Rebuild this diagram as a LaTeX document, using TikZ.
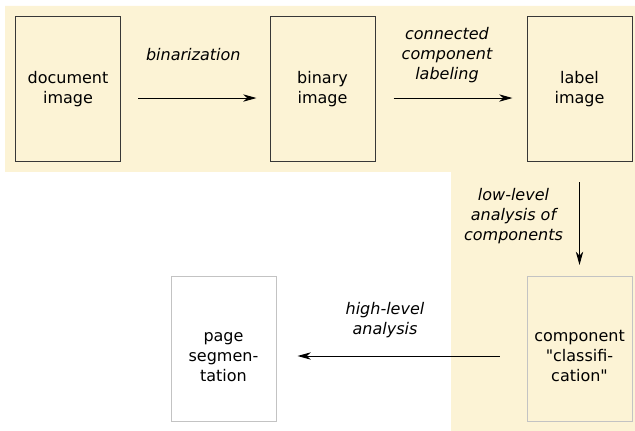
\documentclass[tikz,border=0pt]{standalone}
\usepackage{fontspec}
\setmainfont{DejaVu Sans}
\usepackage{tikz}
\usetikzlibrary{arrows.meta,calc,positioning}
\definecolor{creme}{RGB}{252,243,213}
\definecolor{bordfonce}{RGB}{55,55,55}
\definecolor{bordclair}{RGB}{195,195,195}

\begin{document}
\begin{tikzpicture}[
			x=0.75pt, y=-0.75pt,
			etape/.style={rectangle, draw=bordfonce, line width=0.75pt, minimum width=78.75pt, minimum height=108.75pt, align=center, inner sep=0pt, font=\fontsize{12}{15}\selectfont},
			etapeclaire/.style={etape, draw=bordclair, text height=48.5pt, text depth=0pt},
			fleche/.style={draw, line width=0.75pt, -{Stealth[length=10pt,width=5.5pt,inset=3pt]}},
			legende/.style={align=center, font=\fontsize{12}{15}\selectfont\itshape}
			]
			\useasboundingbox (0,0) rectangle (635,431);

			% Le fond
			\fill[creme] (5,6) -- (635,6) -- (635,431) -- (451,431) -- (451,172) -- (5,172) -- cycle;

			% Les étapes
			\node[etape] (doc) at (68,89.5) {document\\image};
			\node[etape] (binaire) at (322.5,89.5) {binary\\image};
			\node[etape] (etiq) at (579.5,89.5) {label\\image};
			\node[etapeclaire] (classif) at (579.5,349) {component\\\textquotedbl classifi-\\cation\textquotedbl};
			\node[etapeclaire] (page) at (223.5,349) {page\\segmen-\\tation};

			% Les flèches
			\draw[fleche, shorten <=12.75pt, shorten >=9.75pt] ([yshift=-6.4pt]doc.east) to node[midway, legende, xshift=-1.5pt, yshift=32.25pt] (lbin) {binarization} ([yshift=-6.4pt]binaire.west);
			\draw[fleche, shorten <=13.5pt, shorten >=10.5pt] ([yshift=-6.4pt]binaire.east) to node[midway, legende, xshift=-3pt, yshift=32.25pt] (lcc) {connected\\component\\labeling} ([yshift=-6.4pt]etiq.west);
			\draw[fleche, shorten <=15pt, shorten >=8.25pt] (etiq.south) to node[midway, legende, xshift=-49.5pt, yshift=2.6pt] (lbas) {low-level\\analysis of\\components} (classif.north);
			\draw[fleche, shorten <=20.25pt, shorten >=15.75pt] ([yshift=-5.25pt]classif.west) to node[midway, legende, xshift=-12.4pt, yshift=27pt] (lhaut) {high-level\\analysis} ([yshift=-5.25pt]page.east);
		\end{tikzpicture}
\end{document}
